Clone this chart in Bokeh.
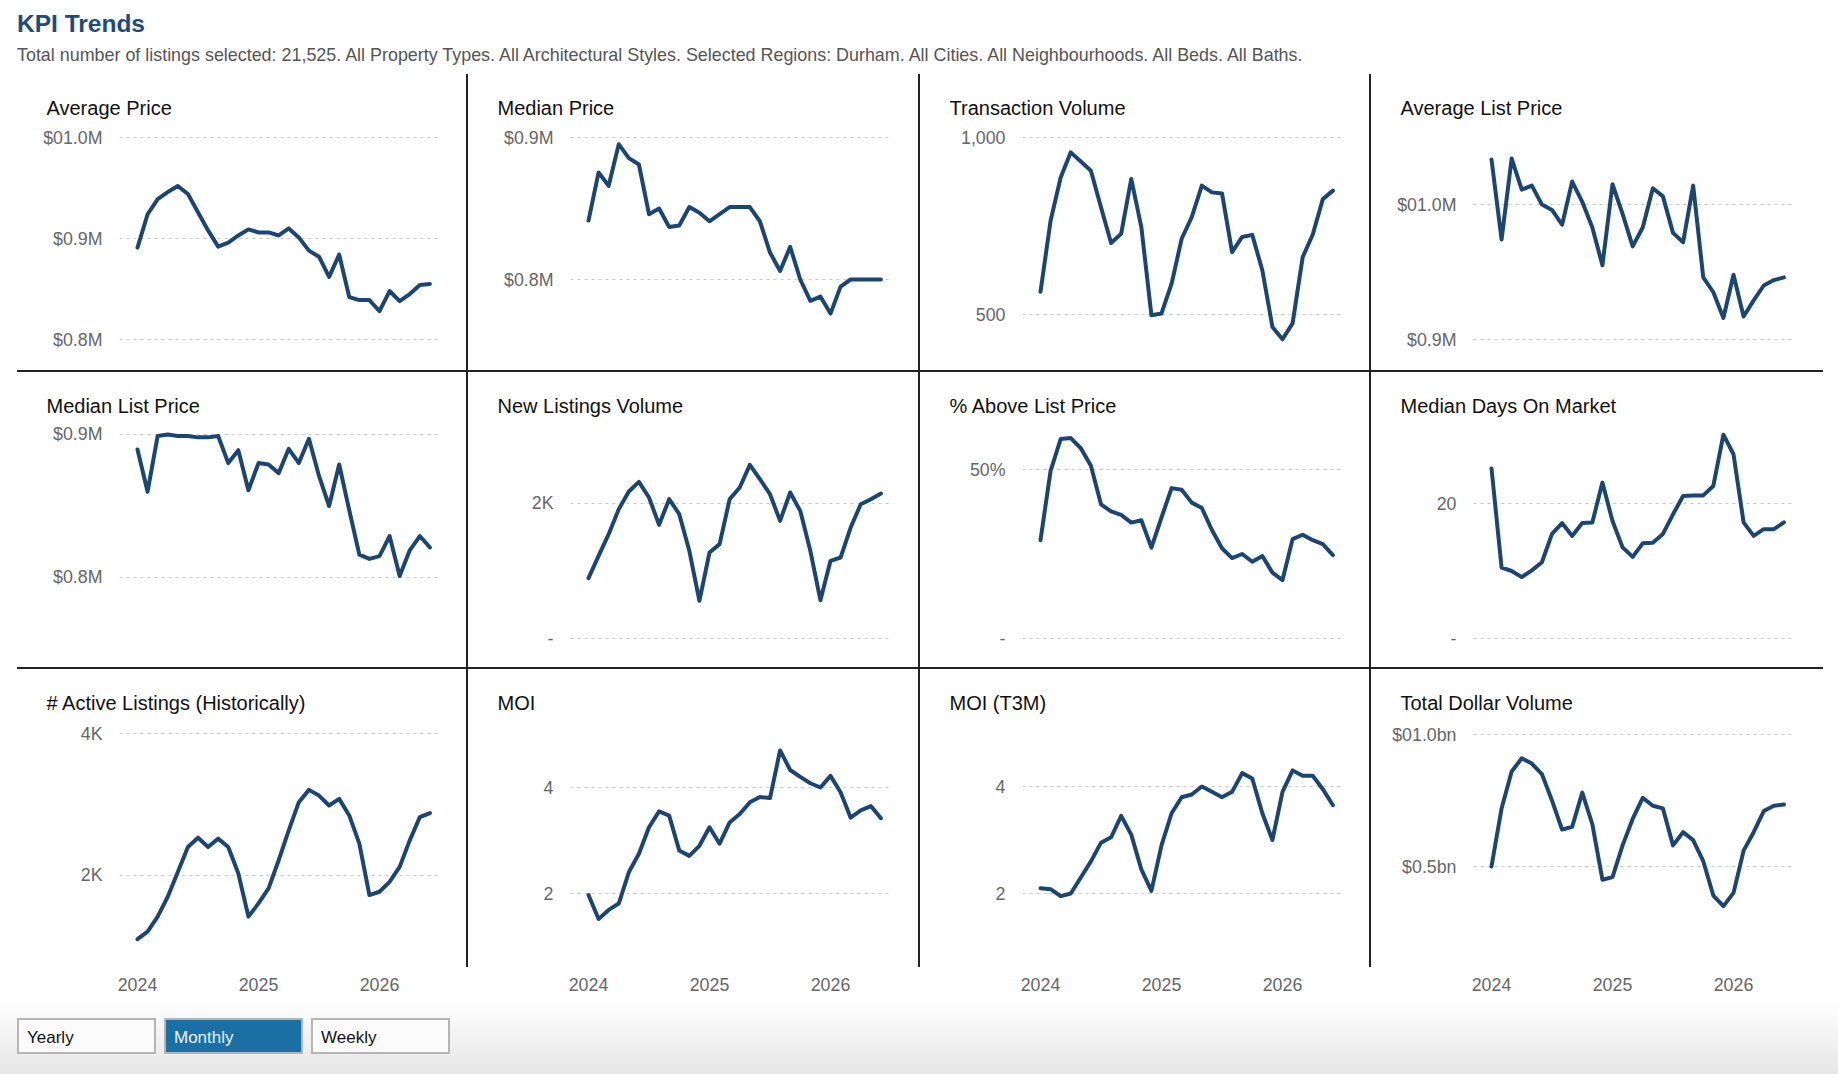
from bokeh.plotting import figure
from bokeh.layouts import column, row
from bokeh.models import Range1d, FixedTicker, Div, Spacer
from bokeh.embed import file_html
from bokeh.resources import INLINE

# ---------------- data ----------------
months = ["2024-01", "2024-02", "2024-03", "2024-04", "2024-05", "2024-06",
          "2024-07", "2024-08", "2024-09", "2024-10", "2024-11", "2024-12",
          "2025-01", "2025-02", "2025-03", "2025-04", "2025-05", "2025-06",
          "2025-07", "2025-08", "2025-09", "2025-10", "2025-11", "2025-12",
          "2026-01", "2026-02", "2026-03", "2026-04", "2026-05", "2026-06"]
year_ticks = [0, 12, 24]
year_labels = ["2024", "2025", "2026"]

avg_price = [891000, 924000, 939000, 946000, 952000, 944000, 926000, 908000, 892000, 896000,
             903000, 909000, 906000, 906000, 903000, 910000, 901000, 888000, 882000, 862000,
             884000, 842000, 839000, 839000, 828000, 848000, 838000, 845000, 854000, 855000]
median_price = [841500, 875400, 866000, 895300, 885500, 881000, 846000, 850000, 837000, 838000,
                851000, 847000, 841000, 846000, 851000, 851000, 851000, 841000, 819000, 806000,
                823000, 800000, 785000, 788000, 776000, 795000, 800000, 800000, 800000, 800000]
transaction_volume = [564, 765, 887, 958, 932, 906, 803, 702, 728, 883,
                      747, 498, 503, 587, 714, 775, 864, 845, 842, 676,
                      719, 725, 625, 465, 430, 475, 662, 726, 826, 850]
avg_list_price = [1033300, 974000, 1034000, 1011000, 1014000, 1000000, 996000, 985000, 1017000, 1002000,
                  983000, 955000, 1015000, 993000, 969000, 983000, 1012000, 1006000, 979000, 972000,
                  1014000, 946000, 935000, 916000, 948000, 917000, 929000, 940000, 944000, 946000]
median_list_price = [889500, 860000, 899000, 900000, 899000, 899000, 898000, 898000, 899000, 880000,
                     889000, 861000, 880000, 879000, 873000, 890000, 880000, 897000, 871000, 850000,
                     879000, 847000, 816000, 813000, 815000, 829000, 801000, 819000, 829000, 821000]
new_listings = [894, 1225, 1546, 1916, 2178, 2321, 2089, 1684, 2064, 1842,
                1299, 558, 1274, 1398, 2064, 2237, 2573, 2360, 2138, 1743,
                2163, 1891, 1299, 568, 1151, 1200, 1644, 1990, 2064, 2148]
pct_above_list = [29.1, 49.6, 59.0, 59.3, 56.3, 51.1, 39.7, 37.6, 36.6, 34.3,
                  35.0, 26.9, 35.8, 44.5, 44.0, 40.2, 38.6, 32.1, 26.7, 23.8,
                  25.0, 22.7, 24.4, 19.5, 17.3, 29.4, 30.7, 29.1, 27.9, 24.7]
median_dom = [25.2, 10.5, 10.0, 9.1, 10.1, 11.3, 15.5, 17.1, 15.2, 17.1,
              17.2, 23.1, 17.4, 13.5, 12.1, 14.1, 14.2, 15.5, 18.4, 21.1,
              21.2, 21.2, 22.6, 30.2, 27.3, 17.2, 15.2, 16.2, 16.2, 17.2]
active_listings = [1103, 1210, 1421, 1701, 2051, 2402, 2533, 2402, 2519, 2402,
                   2028, 1421, 1607, 1818, 2215, 2636, 3033, 3206, 3126, 2986,
                   3079, 2846, 2449, 1724, 1771, 1911, 2121, 2495, 2822, 2879]
moi = [1.97, 1.52, 1.69, 1.81, 2.40, 2.75, 3.25, 3.55, 3.47, 2.81,
       2.71, 2.90, 3.25, 2.94, 3.34, 3.50, 3.72, 3.82, 3.80, 4.70,
       4.33, 4.20, 4.08, 4.00, 4.22, 3.91, 3.43, 3.57, 3.65, 3.42]
moi_t3m = [2.10, 2.08, 1.95, 2.00, 2.30, 2.60, 2.95, 3.05, 3.45, 3.10,
           2.45, 2.05, 2.90, 3.50, 3.80, 3.85, 4.00, 3.90, 3.80, 3.90,
           4.25, 4.15, 3.50, 3.00, 3.90, 4.30, 4.20, 4.20, 3.95, 3.65]
total_dollar_volume_musd = [500, 720, 860, 910, 890, 850, 750, 640, 650, 780,
                            660, 450, 460, 580, 680, 760, 730, 720, 580, 630,
                            600, 520, 390, 350, 400, 560, 630, 710, 730, 735]

titles = ["Average Price", "Median Price", "Transaction Volume", "Average List Price",
          "Median List Price", "New Listings Volume", "% Above List Price", "Median Days On Market",
          "# Active Listings (Historically)", "MOI", "MOI (T3M)", "Total Dollar Volume"]
series = [avg_price, median_price, transaction_volume, avg_list_price,
          median_list_price, new_listings, pct_above_list, median_dom,
          active_listings, moi, moi_t3m, total_dollar_volume_musd]
tick_values = [[800000, 900000, 1000000], [800000, 900000], [500, 1000], [900000, 1000000],
               [800000, 900000], [0, 2000], [0, 50], [0, 20],
               [2000, 4000], [2, 4], [2, 4], [500, 1000]]
tick_labels = [["$0.8M", "$0.9M", "$01.0M"], ["$0.8M", "$0.9M"], ["500", "1,000"], ["$0.9M", "$01.0M"],
               ["$0.8M", "$0.9M"], ["-", "2K"], ["-", "50%"], ["-", "20"],
               ["2K", "4K"], ["2", "4"], ["2", "4"], ["$0.5bn", "$01.0bn"]]
subtitle = ("Total number of listings selected: 21,525. All Property Types. All Architectural Styles. "
            "Selected Regions: Durham. All Cities. All Neighbourhoods. All Beds. All Baths.")
buttons = ["Yearly", "Monthly", "Weekly"]
active_button = "Monthly"

# ---------------- style / layout ----------------
y_ranges = [(785149, 1007921), (747183, 905634), (387.0, 1022.6), (888889, 1055556),
            (747552, 904895), (-207.4, 3125.9), (-4.14, 62.43), (-2.07, 31.26),
            (957.7, 4126.8), (0.943, 5.189), (0.953, 5.159), (185.6, 1037.9)]
LINE = "#1b4674"
FONT = "Liberation Sans"
DIV = "#222222"
col_widths = [451, 452, 451, 452]
row_heights = [298, 297, 331]
FRAME_W = 320
FRAME_TOP = 55
FRAME_BOT = 280
LEFT = 102

xs = list(range(len(months)))


def make_panel(i):
    r, c = divmod(i, 4)
    W, H = col_widths[c], row_heights[r]
    p = figure(width=W, height=H, output_backend="svg", toolbar_location=None,
               x_range=Range1d(-1.785, 29.95), y_range=Range1d(*y_ranges[i]),
               min_border_left=LEFT, min_border_right=W - LEFT - FRAME_W,
               min_border_top=FRAME_TOP, min_border_bottom=H - FRAME_BOT,
               outline_line_color=None, border_fill_alpha=0,
               background_fill_color="#ffffff")
    p.title.text = titles[i]
    p.title.align = "left"
    p.title.offset = -(LEFT - 29)
    p.title.text_font = FONT
    p.title.text_font_size = "20px"
    p.title.text_font_style = "normal"
    p.title.text_color = "#111111"
    p.title.standoff = 22

    p.line(xs, series[i], line_width=4, color=LINE, line_join="round", line_cap="round")

    ya = p.yaxis[0]
    ya.ticker = FixedTicker(ticks=tick_values[i])
    ya.major_label_overrides = dict(zip(tick_values[i], tick_labels[i]))
    ya.axis_line_color = None
    ya.major_tick_line_color = None
    ya.minor_tick_line_color = None
    ya.major_label_standoff = 11
    ya.major_label_text_font = FONT
    ya.major_label_text_font_size = "17.8px"
    ya.major_label_text_color = "#666666"

    xa = p.xaxis[0]
    xa.ticker = FixedTicker(ticks=year_ticks)
    xa.major_label_overrides = dict(zip(year_ticks, year_labels))
    xa.axis_line_color = None
    xa.major_tick_line_color = None
    xa.minor_tick_line_color = None
    xa.major_label_standoff = 22
    xa.major_label_text_font = FONT
    xa.major_label_text_font_size = "17.8px"
    xa.major_label_text_color = "#666666"
    if r < 2:
        xa.visible = False

    p.xgrid.visible = False
    p.ygrid.grid_line_color = "#c8c8c8"
    p.ygrid.grid_line_dash = "3 4"
    p.ygrid.grid_line_width = 1

    layers = []
    if c < 3:
        h = "100%" if r < 2 else "298px"
        layers.append(f"linear-gradient({DIV},{DIV}) right top / 2px {h} no-repeat")
    if r < 2:
        layers.append(f"linear-gradient({DIV},{DIV}) left bottom / 100% 2px no-repeat")
    layers.append("#ffffff")
    p.styles = {"background": ", ".join(layers)}
    return p


panels = [make_panel(i) for i in range(12)]

header_html = (
    f'<div style="font-family:\'{FONT}\',Arial,sans-serif;padding-left:17px;margin:0;">'
    '<div style="font-weight:bold;font-size:24.5px;line-height:28px;color:#1f4a7c;padding-top:10px;">KPI Trends</div>'
    f'<div style="font-size:17.9px;line-height:22px;color:#555555;margin-top:6px;white-space:nowrap;">{subtitle}</div>'
    '</div>'
)
header = Div(text=header_html, width=1838, height=74, margin=0)

btn_html = ""
for b in buttons:
    if b == active_button:
        bg, fg = "#1a6fa5", "#eaf2f8"
    else:
        bg, fg = "#fbfbfb", "#111111"
    btn_html += (f'<div style="box-sizing:border-box;width:139px;height:36px;border:2px solid #b5b5b5;'
                 f'background:{bg};color:{fg};padding:2px 0 0 8px;line-height:32px;">{b}</div>')
buttons_div = Div(
    text=(f'<div style="display:flex;gap:8px;padding:18px 0 0 17px;font-family:\'{FONT}\',Arial,sans-serif;'
          f'font-size:17px;">{btn_html}</div>'),
    width=1838, height=74, margin=0,
    styles={"background": "linear-gradient(#ffffff, #e6e6e6)"})

rows = []
for r in range(3):
    rows.append(row([Spacer(width=17, height=row_heights[r], margin=0)] + panels[4 * r:4 * r + 4] +
                    [Spacer(width=15, height=row_heights[r], margin=0)], spacing=0))

page = column([header] + rows + [buttons_div], spacing=0)

open("out.html", "w").write(file_html(page, INLINE))
